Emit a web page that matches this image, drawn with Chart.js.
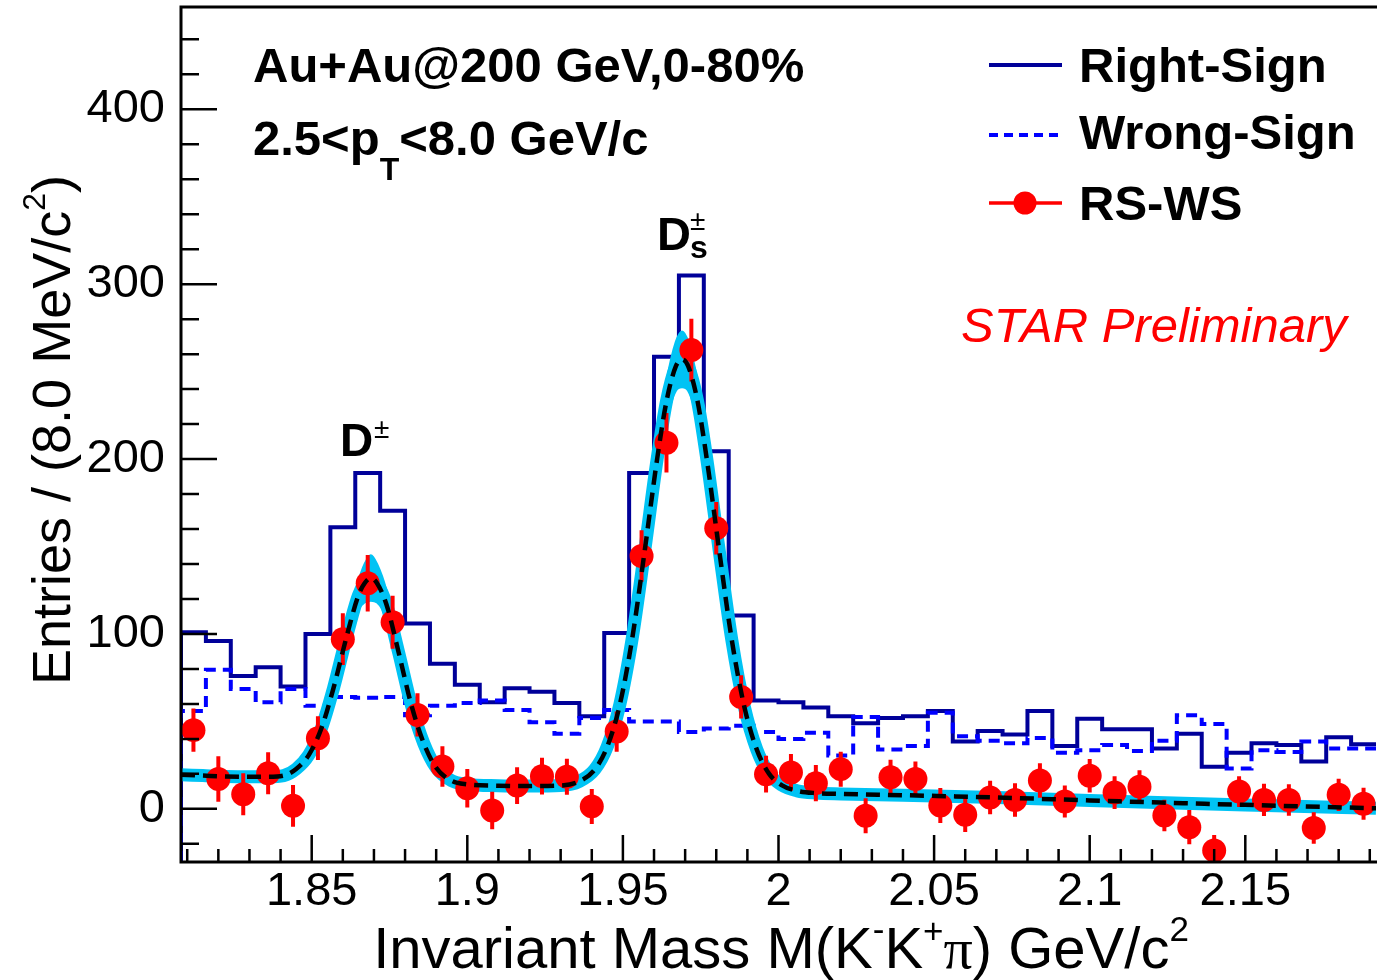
<!DOCTYPE html>
<html>
<head>
<meta charset="utf-8">
<script src="https://cdn.jsdelivr.net/npm/chart.js@4.4.1/dist/chart.umd.min.js"></script>
<style>
  html, body { margin: 0; padding: 0; background: #fff; }
</style>
</head>
<body>
<canvas id="massChart" width="1377" height="980"></canvas>
<script>
  // binning: 48 bins of 8 MeV starting at 1.808 GeV
  const binLow = 1.808;
  const binWidth = 0.008;
  const yMin = -30.4;
  const yMax = 458.5;

  const rightSign = [101, 96, 76, 81, 70, 100, 161, 192, 170.5, 106, 83, 71,
    61, 69, 67, 60.5, 53, 100.5, 192, 258.5, 305, 204.5, 110.5, 62,
    61, 58, 53, 49, 52, 53, 56, 38.5, 44.5, 42.5, 56, 36,
    51.5, 45.5, 45.5, 34.5, 43, 24, 32, 37.5, 36.5, 27, 41, 37];

  const wrongSign = [56, 79.5, 68.5, 61, 68.5, 59, 64, 63.5, 64, 53.5, 59, 60.5,
    62, 56.5, 49.5, 43, 52, 56.5, 50, 50, 44, 46, 47.5, 44,
    40, 43.5, 30.5, 52.5, 34, 36, 55, 41.5, 39, 37.5, 40.5, 32,
    33.5, 36.5, 33, 39, 53.5, 48.5, 23, 33.5, 32.5, 38.5, 34.5, 34.5];

  const diffValue = [45, 17, 8.4, 20.4, 1.7, 40.4, 97, 129, 106.7, 53.7, 24.2, 11.8,
    -1, 13.3, 18.7, 18.3, 1.4, 44.2, 144.6, 209.3, 262.3, 160.4, 64, 19.8,
    20.8, 14.7, 22.7, -4, 18.1, 17.1, 1.9, -3.4, 6.5, 5.1, 16.2, 4.2,
    18.9, 9.3, 12.7, -3.8, -10.5, -23.8, 9.9, 5.1, 5.1, -11, 8, 2.9];

  const diffError = [12.4, 13, 12, 12, 12, 12.5, 14.8, 16.2, 15.2, 12.4, 11.6, 11,
    10.7, 10.5, 10.5, 10.3, 10, 11.5, 14.7, 17, 18, 15, 12.4, 10.5,
    10.5, 10.3, 10, 10, 10, 10, 10, 9.8, 9.6, 9.6, 9.8, 9.2,
    9.6, 9.4, 9.4, 9, 9.8, 8.8, 8.8, 9.2, 9, 9, 9.2, 9.2];

  // fit curve
  const fitMass = [1.808, 1.815, 1.822, 1.83, 1.836, 1.841, 1.845, 1.849, 1.853, 1.857,
    1.861, 1.865, 1.867, 1.869, 1.871, 1.874, 1.878, 1.882, 1.886, 1.890,
    1.895, 1.90, 1.91, 1.92, 1.93, 1.936, 1.941, 1.945, 1.949, 1.953,
    1.957, 1.961, 1.964, 1.967, 1.969, 1.971, 1.974, 1.977, 1.981, 1.985,
    1.989, 1.993, 1.997, 2.001, 2.006, 2.012, 2.02, 2.04, 2.07, 2.10,
    2.13, 2.16, 2.192];
  const fitValue = [19.5, 19, 18.5, 18.3, 18.3, 19, 22.8, 30.6, 45.5, 69,
    97, 122, 129, 132, 129, 117, 89, 59.5, 37.5, 23.5,
    16, 14, 13.2, 13, 13.3, 15.7, 22.6, 35.7, 59.5, 97.5,
    147.5, 200, 233, 253, 257, 253, 233, 199.5, 147, 96.5,
    58.5, 34, 20, 13.6, 10.3, 9, 8.5, 7.8, 6.5, 4.8,
    3.2, 1.8, 0.3];
  // extra half width of the fit error band
  const fitBand = [0, 0, 0, 0, 0, 0, 0, 0, 1, 2,
    4, 8, 11, 13, 11, 8, 4, 2, 1, 0,
    0, 0, 0, 0, 0, 0, 0, 0, 1, 2,
    4, 7, 11, 14, 16, 14, 11, 7, 4, 2,
    1, 0, 0, 0, 0, 0, 0, 0, 0, 0,
    0, 0, 0];

  const xTickValues = [1.85, 1.9, 1.95, 2.0, 2.05, 2.1, 2.15];
  const xTickLabels = ["1.85", "1.9", "1.95", "2", "2.05", "2.1", "2.15"];
  const yTickValues = [0, 100, 200, 300, 400];

  const NAVY = "#000099";
  const BLUE = "#0000ff";
  const RED = "#ff0000";
  const CYAN = "#00c3f4";
  const FONT = '"Liberation Sans", Arial, sans-serif';

  const stepData = (values) => {
    const pts = [{ x: binLow, y: yMin }];
    values.forEach((v, i) => pts.push({ x: binLow + i * binWidth, y: v }));
    pts.push({ x: binLow + values.length * binWidth, y: values[values.length - 1] });
    return pts;
  };
  const binCenter = (i) => binLow + (i + 0.5) * binWidth;

  const fitPts = fitMass.map((m, i) => ({ x: m, y: fitValue[i] }));
  const bandHi = fitMass.map((m, i) => ({ x: m, y: fitValue[i] + fitBand[i] }));
  const bandLo = fitMass.map((m, i) => ({ x: m, y: fitValue[i] - fitBand[i] }));
  const diffPts = diffValue.map((v, i) => ({ x: binCenter(i), y: v }));

  // draw a run of text pieces (for sub/superscripts)
  function drawRuns(ctx, x, y, runs, measureOnly) {
    let cx = x;
    for (const r of runs) {
      ctx.font = r.font;
      if (!measureOnly) ctx.fillText(r.t, cx, y + (r.dy || 0));
      cx += ctx.measureText(r.t).width;
    }
    return cx - x;
  }

  const errorBars = {
    id: 'errorBars',
    afterDatasetDraw(chart, args) {
      if (args.index !== 1) return;
      const { ctx, chartArea: a, scales: { x, y } } = chart;
      ctx.save();
      ctx.beginPath();
      ctx.rect(a.left, a.top, a.right - a.left, a.bottom - a.top);
      ctx.clip();
      ctx.strokeStyle = RED;
      ctx.lineWidth = 4;
      ctx.beginPath();
      diffValue.forEach((v, i) => {
        const px = x.getPixelForValue(binCenter(i));
        ctx.moveTo(px, y.getPixelForValue(v - diffError[i]));
        ctx.lineTo(px, y.getPixelForValue(v + diffError[i]));
      });
      ctx.stroke();
      ctx.restore();
    }
  };

  const decorations = {
    id: 'decorations',
    afterDraw(chart) {
      const { ctx, chartArea: a, scales: { x, y } } = chart;
      ctx.save();

      // ticks inside the frame, ROOT style
      ctx.strokeStyle = "#000";
      ctx.lineWidth = 2.5;
      ctx.beginPath();
      for (let k = 181; k <= 219; k++) {
        const v = k / 100;
        const px = x.getPixelForValue(v);
        const len = (k % 5 === 0) ? 27 : 13;
        ctx.moveTo(px, a.bottom);
        ctx.lineTo(px, a.bottom - len);
      }
      for (let v = -20; v <= 440; v += 20) {
        const py = y.getPixelForValue(v);
        const len = (v % 100 === 0) ? 36 : 18;
        ctx.moveTo(a.left, py);
        ctx.lineTo(a.left + len, py);
      }
      ctx.stroke();

      // frame
      ctx.lineWidth = 3;
      ctx.beginPath();
      ctx.moveTo(a.right + 2, a.top);
      ctx.lineTo(a.left, a.top);
      ctx.lineTo(a.left, a.bottom);
      ctx.lineTo(a.right + 2, a.bottom);
      ctx.stroke();

      ctx.fillStyle = "#000";
      ctx.textBaseline = "alphabetic";
      ctx.textAlign = "left";

      // x title
      const big = `58px ${FONT}`;
      const sup = `35px ${FONT}`;
      const xRuns = [
        { t: "Invariant Mass M(K", font: big },
        { t: "-", font: sup, dy: -27 },
        { t: "K", font: big },
        { t: "+", font: sup, dy: -25 },
        { t: "\u03c0", font: `58px "Liberation Serif", serif` },
        { t: ") GeV/c", font: big },
        { t: "2", font: sup, dy: -27 }
      ];
      const xw = drawRuns(ctx, 0, 0, xRuns, true);
      drawRuns(ctx, 781 - xw / 2, 968, xRuns);

      // y title, rotated
      const yRuns = [
        { t: "Entries / (8.0 MeV/c", font: `54px ${FONT}` },
        { t: "2", font: `32px ${FONT}`, dy: -25 },
        { t: ")", font: `54px ${FONT}` }
      ];
      const yw = drawRuns(ctx, 0, 0, yRuns, true);
      ctx.save();
      ctx.translate(70, 430);
      ctx.rotate(-Math.PI / 2);
      drawRuns(ctx, -yw / 2, 0, yRuns);
      ctx.restore();

      // header text
      const bold = `bold 49px ${FONT}`;
      ctx.font = bold;
      ctx.fillText("Au+Au@200 GeV,0-80%", 253, 82);
      drawRuns(ctx, 253, 155, [
        { t: "2.5<p", font: bold },
        { t: "T", font: `bold 32px ${FONT}`, dy: 25 },
        { t: "<8.0 GeV/c", font: bold }
      ]);

      // peak labels
      ctx.font = `bold 46px ${FONT}`;
      ctx.fillText("D", 340, 456);
      ctx.font = `28px ${FONT}`;
      ctx.fillText("\u00b1", 374, 438);
      ctx.font = `bold 47px ${FONT}`;
      ctx.fillText("D", 657, 250);
      ctx.font = `28px ${FONT}`;
      ctx.fillText("\u00b1", 690, 230);
      ctx.font = `bold 32px ${FONT}`;
      ctx.fillText("s", 690, 258);

      // legend
      ctx.lineWidth = 4;
      ctx.strokeStyle = NAVY;
      ctx.beginPath(); ctx.moveTo(989, 65); ctx.lineTo(1062, 65); ctx.stroke();
      ctx.strokeStyle = BLUE;
      ctx.setLineDash([9, 6]);
      ctx.beginPath(); ctx.moveTo(989, 135); ctx.lineTo(1059, 135); ctx.stroke();
      ctx.setLineDash([]);
      ctx.strokeStyle = RED;
      ctx.lineWidth = 3.5;
      ctx.beginPath(); ctx.moveTo(989, 203); ctx.lineTo(1062, 203); ctx.stroke();
      ctx.fillStyle = RED;
      ctx.beginPath(); ctx.arc(1025, 203, 11.5, 0, Math.PI * 2); ctx.fill();

      ctx.fillStyle = "#000";
      ctx.font = `bold 49px ${FONT}`;
      ctx.fillText("Right-Sign", 1079, 82);
      ctx.fillText("Wrong-Sign", 1079, 149);
      ctx.fillText("RS-WS", 1079, 220);

      ctx.fillStyle = RED;
      ctx.font = `italic 49px ${FONT}`;
      ctx.fillText("STAR Preliminary", 961, 342);

      ctx.restore();
    }
  };

  new Chart(document.getElementById("massChart"), {
    type: 'line',
    data: {
      datasets: [
        { // 0 fit, dashed black
          data: fitPts,
          borderColor: "#000",
          borderWidth: 4.5,
          borderDash: [14, 8],
          pointRadius: 0,
          cubicInterpolationMode: 'monotone',
          fill: false,
          clip: 0,
          order: 0
        },
        { // 1 RS-WS points
          data: diffPts,
          showLine: false,
          pointRadius: 12,
          pointBackgroundColor: RED,
          pointBorderWidth: 0,
          clip: 0,
          order: 1
        },
        { // 2 fit band core
          data: fitPts,
          borderColor: CYAN,
          borderWidth: 13,
          pointRadius: 0,
          cubicInterpolationMode: 'monotone',
          fill: false,
          clip: 0,
          order: 2
        },
        { // 3 band upper
          data: bandHi,
          borderColor: CYAN,
          borderWidth: 2,
          backgroundColor: CYAN,
          pointRadius: 0,
          cubicInterpolationMode: 'monotone',
          fill: '+1',
          clip: 0,
          order: 3
        },
        { // 4 band lower
          data: bandLo,
          borderColor: CYAN,
          borderWidth: 2,
          pointRadius: 0,
          cubicInterpolationMode: 'monotone',
          fill: false,
          clip: 0,
          order: 4
        },
        { // 5 wrong sign
          data: stepData(wrongSign),
          borderColor: BLUE,
          borderWidth: 4,
          borderDash: [11, 7],
          stepped: true,
          pointRadius: 0,
          fill: false,
          clip: 0,
          order: 5
        },
        { // 6 right sign
          data: stepData(rightSign),
          borderColor: NAVY,
          borderWidth: 4,
          stepped: true,
          pointRadius: 0,
          fill: false,
          clip: 0,
          order: 6
        }
      ]
    },
    options: {
      responsive: false,
      animation: false,
      devicePixelRatio: 1,
      layout: { autoPadding: false, padding: { top: 7, right: 1, left: 0, bottom: 0 } },
      scales: {
        x: {
          type: 'linear',
          min: binLow,
          max: binLow + 48 * binWidth,
          afterBuildTicks: (scale) => { scale.ticks = xTickValues.map(v => ({ value: v })); },
          afterFit: (scale) => {
            scale.height = 118;
            scale.paddingLeft = 0;
            scale.paddingRight = 0;
          },
          ticks: {
            autoSkip: false,
            maxRotation: 0,
            padding: 2,
            color: "#000",
            font: { family: FONT, size: 47 },
            callback: (v) => {
              const i = xTickValues.findIndex(t => Math.abs(t - v) < 1e-6);
              return i >= 0 ? xTickLabels[i] : "";
            }
          },
          grid: { display: false, drawTicks: false },
          border: { display: false }
        },
        y: {
          min: yMin,
          max: yMax,
          afterBuildTicks: (scale) => { scale.ticks = yTickValues.map(v => ({ value: v })); },
          afterFit: (scale) => {
            scale.width = 181;
            scale.paddingTop = 0;
            scale.paddingBottom = 0;
          },
          ticks: {
            padding: 16,
            color: "#000",
            font: { family: FONT, size: 47 }
          },
          grid: { display: false, drawTicks: false },
          border: { display: false }
        }
      },
      plugins: {
        legend: { display: false },
        tooltip: { enabled: false }
      }
    },
    plugins: [errorBars, decorations]
  });
</script>
</body>
</html>
